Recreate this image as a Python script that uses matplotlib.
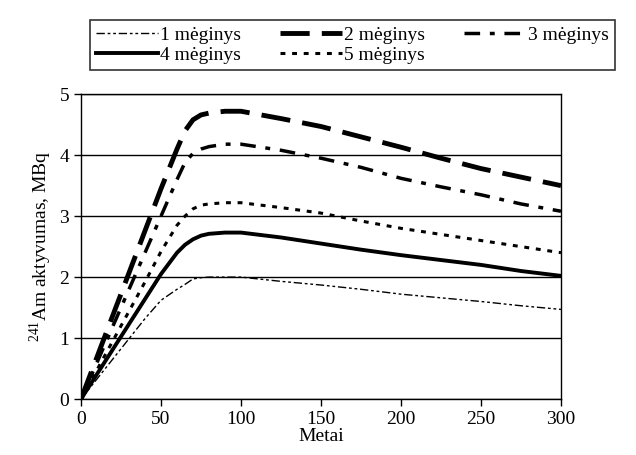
import matplotlib
matplotlib.use("Agg")
from matplotlib import pyplot as plt

plt.rcParams['font.family'] = ['Liberation Serif', 'DejaVu Serif']
plt.rcParams['mathtext.fontset'] = 'custom'
plt.rcParams['mathtext.rm'] = 'Liberation Serif'

# years
metai = [0, 10, 20, 30, 40, 50, 60, 65, 70, 75, 80, 90, 100, 125, 150, 175, 200, 225, 250, 275, 300]

# activity, MBq
meginys1 = [0, 0.33, 0.66, 0.99, 1.32, 1.62, 1.80, 1.88, 1.97, 1.99, 2.00, 2.00, 2.00, 1.93, 1.87, 1.80, 1.72, 1.66, 1.60, 1.53, 1.47]
meginys2 = [0, 0.69, 1.38, 2.07, 2.76, 3.45, 4.10, 4.40, 4.58, 4.66, 4.69, 4.72, 4.72, 4.60, 4.47, 4.30, 4.13, 3.95, 3.78, 3.64, 3.50]
meginys3 = [0, 0.60, 1.20, 1.80, 2.40, 3.00, 3.60, 3.88, 4.03, 4.10, 4.14, 4.18, 4.18, 4.08, 3.95, 3.80, 3.62, 3.48, 3.35, 3.20, 3.08]
meginys4 = [0, 0.41, 0.82, 1.23, 1.64, 2.05, 2.40, 2.53, 2.62, 2.68, 2.71, 2.73, 2.73, 2.65, 2.55, 2.45, 2.36, 2.28, 2.20, 2.10, 2.02]
meginys5 = [0, 0.48, 0.96, 1.44, 1.92, 2.42, 2.85, 3.00, 3.12, 3.18, 3.20, 3.22, 3.22, 3.14, 3.05, 2.92, 2.80, 2.70, 2.60, 2.50, 2.40]

fig = plt.figure(figsize=(6.36, 4.55), dpi=100)
ax = fig.add_axes([0.1274, 0.123, 0.7546, 0.670])

l1, = ax.plot(metai, meginys1, color='black', lw=1.0, dashes=(6, 2, 2, 2, 2, 2), label='1 mėginys')
l2, = ax.plot(metai, meginys2, color='black', lw=3.5, dashes=(6, 2.5), label='2 mėginys')
l3, = ax.plot(metai, meginys3, color='black', lw=2.5, dashes=(4.5, 2.8, 1.4, 2.8), label='3 mėginys')
l4, = ax.plot(metai, meginys4, color='black', lw=2.8, label='4 mėginys')
l5, = ax.plot(metai, meginys5, color='black', lw=2.2, dashes=(1.6, 2.2), label='5 mėginys')

ax.set_xlim(0, 300)
ax.set_ylim(0, 5)
ax.set_xticks([0, 50, 100, 150, 200, 250, 300])
ax.set_yticks([0, 1, 2, 3, 4, 5])
ax.yaxis.grid(True, color='black', lw=1)
ax.set_axisbelow(True)
ax.tick_params(labelsize=14, direction='out', length=5, width=1, colors='black')
for s in ax.spines.values():
    s.set_linewidth(1)
ax.set_xlabel('Metai', fontsize=14, labelpad=0)
ax.set_ylabel('$^{241}$Am aktyvumas, MBq', fontsize=14)

# legend filled column by column -> order so rows read 1 2 3 / 4 5
handles = [l1, l4, l2, l5, l3]
fig.legend(handles, [h.get_label() for h in handles],
           loc='lower left', bbox_to_anchor=(0.1415, 0.846, 0.8255, 0.132), mode='expand',
           ncol=3, fontsize=14, frameon=True, fancybox=False, edgecolor='black',
           handlelength=3.2, handletextpad=0.1, borderaxespad=0, labelspacing=0.15,
           borderpad=0.3, columnspacing=1.0)
fig.legends[0].get_frame().set_linewidth(1.2)

fig.savefig('out.png', dpi=100)
